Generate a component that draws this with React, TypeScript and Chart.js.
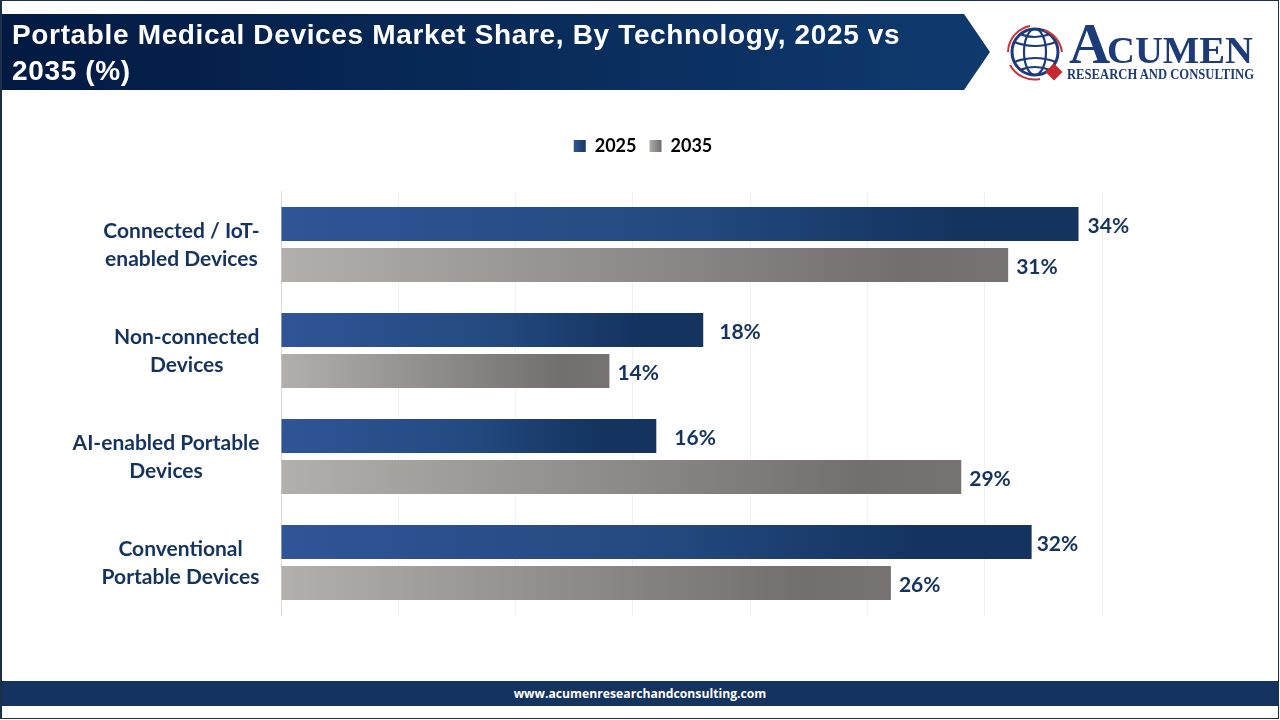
import React, { useEffect, useRef } from "react";
import { Chart, registerables } from "chart.js";

Chart.register(...registerables);

const categories = [
  ["Connected / IoT-", "enabled Devices"],
  ["Non-connected", "Devices"],
  ["AI-enabled Portable", "Devices"],
  ["Conventional", "Portable Devices"],
];
const values2025 = [34, 18, 16, 32];
const values2035 = [31, 14, 29, 26];
const xTicksMax = 35;
const xTickStep = 5;

const NAVY = "#14335f";
const labelFont = "Lato, sans-serif";

// the gap between bar end and % label is not even in the original
const labelGaps = [
  [9, 8],
  [16, 8],
  [18, 8],
  [5, 8],
];

const blueStops: [number, string][] = [
  [0, "#2f5597"],
  [0.5, "#234a80"],
  [0.85, "#14335f"],
  [1, "#14335f"],
];
const greyStops: [number, string][] = [
  [0, "#b3afad"],
  [0.85, "#736f6e"],
  [1, "#767271"],
];

const makeGradient = (ctx: CanvasRenderingContext2D, x0: number, x1: number, stops: [number, string][]) => {
  const g = ctx.createLinearGradient(x0, 0, x1, 0);
  stops.forEach(([o, c]) => g.addColorStop(o, c));
  return g;
};

const barFill = (stops: [number, string][]) => (c: any) => {
  const x = c.chart.scales.x;
  if (!x || c.dataIndex === undefined) return stops[0][1];
  return makeGradient(c.chart.ctx, x.getPixelForValue(0), x.getPixelForValue(c.raw), stops);
};

// make room under the legend
const legendRoom = {
  id: "legendRoom",
  beforeInit(chart: any) {
    const fit = chart.legend.fit;
    chart.legend.fit = function () {
      fit.call(this);
      this.height = 67.5;
    };
  },
};

// category names: block sits against the axis, lines centred inside it
const categoryLabels = {
  id: "categoryLabels",
  afterDraw(chart: any) {
    const { ctx, scales } = chart;
    ctx.save();
    ctx.font = `bold 21px ${labelFont}`;
    ctx.fillStyle = NAVY;
    ctx.textAlign = "center";
    ctx.textBaseline = "middle";
    categories.forEach((lines, i) => {
      const y = scales.y.getPixelForTick(i);
      const w = Math.max(...lines.map((l) => ctx.measureText(l).width));
      const cx = 259.5 - w / 2;
      lines.forEach((l, j) => ctx.fillText(l, cx, y - 13 + j * 28));
    });
    ctx.restore();
  },
};

const valueLabels = {
  id: "valueLabels",
  afterDatasetsDraw(chart: any) {
    const { ctx } = chart;
    ctx.save();
    ctx.font = `bold 21px ${labelFont}`;
    ctx.fillStyle = NAVY;
    ctx.textAlign = "left";
    ctx.textBaseline = "middle";
    chart.data.datasets.forEach((ds: any, d: number) => {
      chart.getDatasetMeta(d).data.forEach((bar: any, i: number) => {
        ctx.fillText(`${ds.data[i]}%`, bar.x + labelGaps[i][d], bar.y + 2);
      });
    });
    ctx.restore();
  },
};

const Logo = () => (
  <svg width={260} height={80} viewBox="1000 10 260 80" style={{ position: "absolute", left: 1000, top: 10 }}>
    <g fill="none" stroke="#1d3b78" strokeWidth={2.2}>
      <circle cx={1035} cy={52} r={23} strokeWidth={3} />
      <ellipse cx={1035} cy={52} rx={11} ry={23} />
      <path d="M1014 42 Q1035 50 1056 42" />
      <path d="M1014 62 Q1035 54 1056 62" />
      <path d="M1020 34 Q1035 40 1050 34" />
      <path d="M1020 70 Q1035 64 1050 70" />
    </g>
    <g fill="none" stroke="#c8343a" strokeWidth={2}>
      <path d="M1008 52 A27 27 0 0 1 1030 26" />
      <path d="M1044 30 A27 27 0 0 1 1062 52" />
      <path d="M1010 65 A28 28 0 0 0 1040 79" />
    </g>
    <rect x={1048} y={66} width={12} height={12} fill="#c8282d" transform="rotate(45 1054 72)" />
    <g fill="#1d3b78" fontFamily="'Liberation Serif', serif" fontWeight="bold">
      <text x={1069} y={63} fontSize={57}>A</text>
      <text x={1107} y={63} fontSize={38} textLength={146} lengthAdjust="spacingAndGlyphs">CUMEN</text>
      <text x={1067} y={79} fontSize={14} textLength={187} lengthAdjust="spacingAndGlyphs">RESEARCH AND CONSULTING</text>
    </g>
  </svg>
);

export default function App() {
  const chartRef = useRef<HTMLCanvasElement | null>(null);

  useEffect(() => {
    document.body.style.margin = "0";
    const ctx = chartRef.current!.getContext("2d")!;
    const chart = new Chart(ctx, {
      type: "bar",
      data: {
        labels: categories as any,
        datasets: [
          { label: "2025", data: values2025, backgroundColor: barFill(blueStops) as any },
          { label: "2035", data: values2035, backgroundColor: barFill(greyStops) as any },
        ],
      },
      options: {
        indexAxis: "y",
        responsive: false,
        animation: false,
        categoryPercentage: 0.7736,
        barPercentage: 0.83,
        layout: { padding: { top: 124, left: 184, right: 178, bottom: 104.5 } },
        scales: {
          x: {
            min: 0,
            max: xTicksMax,
            ticks: { display: false, stepSize: xTickStep },
            grid: { color: "#f1f1f1", drawTicks: false },
            border: { display: false },
          },
          y: {
            afterFit: (scale: any) => {
              scale.width = 97;
            },
            ticks: { display: false },
            grid: { display: false, drawTicks: false },
            border: { color: "#d9d9d9" },
          },
        } as any,
        plugins: {
          tooltip: { enabled: false },
          legend: {
            position: "top",
            labels: {
              boxWidth: 12,
              boxHeight: 12,
              padding: 13,
              color: "#000000",
              font: { family: labelFont, size: 18, weight: "bold" },
              generateLabels: (c: any) =>
                c.data.datasets.map((ds: any, i: number) => ({
                  text: ds.label,
                  datasetIndex: i,
                  lineWidth: 0,
                  fontColor: "#000000",
                  fillStyle:
                    i === 0
                      ? makeGradient(c.ctx, 574, 586, [[0, "#2f5597"], [1, "#17365f"]])
                      : makeGradient(c.ctx, 649, 661, [[0, "#b3afad"], [1, "#736f6e"]]),
                })),
            },
          },
        },
      },
      plugins: [legendRoom, categoryLabels, valueLabels],
    });
    return () => chart.destroy();
  }, []);

  return (
    <div style={{ position: "fixed", left: 0, top: 0, width: 1280, height: 720, background: "#fff", overflow: "hidden" }}>
      <canvas ref={chartRef} width={1280} height={720} style={{ position: "absolute", left: 0, top: 0 }} />
      <div
        style={{
          position: "absolute",
          left: 2,
          top: 14,
          width: 988,
          height: 76,
          background: "linear-gradient(90deg, #021a42, #0f3a6e)",
          clipPath: "polygon(0 0, 962px 0, 988px 38px, 962px 76px, 0 76px)",
        }}
      />
      <div
        style={{
          position: "absolute",
          left: 12,
          top: 17,
          width: 940,
          color: "#fff",
          font: "bold 28px/36px 'Liberation Sans', sans-serif",
          letterSpacing: 0.65,
        }}
      >
        Portable Medical Devices Market Share, By Technology, 2025 vs 2035 (%)
      </div>
      <Logo />
      <div
        style={{
          position: "absolute",
          left: 2,
          top: 681,
          width: 1276,
          height: 25,
          background: NAVY,
          color: "#fff",
          textAlign: "center",
          font: "bold 12.2px/26px 'Open Sans', sans-serif",
        }}
      >
        www.acumenresearchandconsulting.com
      </div>
      <div
        style={{
          position: "absolute",
          left: 0,
          top: 0,
          width: 1279,
          height: 719,
          borderTop: "1px solid #1b2f48",
          borderLeft: "2px solid #1b2f48",
          borderBottom: "1px solid #1b2f48",
          borderRight: "1px solid #1b2f48",
          boxSizing: "border-box",
          pointerEvents: "none",
        }}
      />
    </div>
  );
}
